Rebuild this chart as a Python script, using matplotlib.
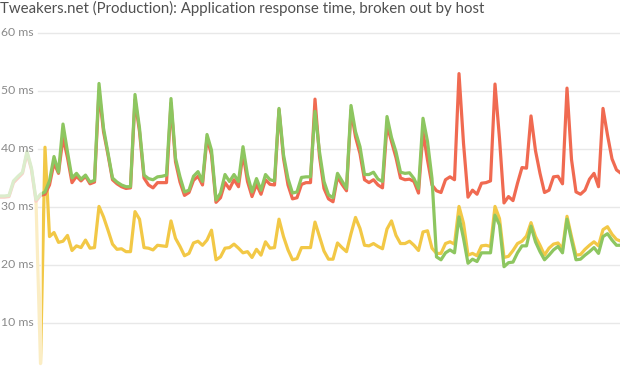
import numpy as np
import matplotlib.pyplot as plt
from matplotlib.colors import to_rgb
from matplotlib.patches import Rectangle

# Response time per host (ms), one sample every 4.5 px of the original chart
green_ms = [31.9, 31.9, 32.0, 34.5, 35.3, 36.0, 39.6, 36.7, 31.3, 32.2,
            32.6, 34.5, 38.7, 36.0, 44.3, 39.5, 35.0, 35.8, 34.8, 35.5,
            34.3, 34.6, 51.3, 43.6, 39.3, 35.0, 34.3, 33.8, 33.5, 33.5,
            49.4, 43.6, 35.5, 34.9, 34.7, 35.2, 35.3, 35.5, 48.7, 38.4,
            35.2, 32.6, 32.9, 35.3, 36.1, 34.4, 42.5, 39.8, 31.2, 32.4,
            35.6, 34.4, 35.6, 34.4, 40.4, 35.5, 32.6, 34.9, 32.9, 35.6,
            34.7, 34.5, 47.0, 39.0, 34.9, 32.4, 32.6, 35.1, 35.2, 35.2,
            46.5, 39.5, 34.4, 32.1, 31.6, 35.8, 34.5, 33.2, 47.5, 43.0,
            40.4, 35.6, 35.6, 36.0, 34.8, 34.4, 45.6, 42.0, 39.5, 36.0,
            35.8, 35.9, 34.9, 33.2, 45.3, 41.3, 34.9, 21.4, 20.9, 22.1,
            22.6, 22.1, 28.3, 24.6, 20.3, 21.0, 20.6, 22.1, 22.1, 22.1,
            28.6, 26.9, 19.7, 20.4, 20.5, 22.1, 23.3, 23.3, 26.7, 24.0,
            22.3, 20.9, 21.7, 22.6, 23.2, 22.1, 27.9, 24.3, 20.9, 21.0,
            21.7, 22.3, 23.0, 22.0, 24.9, 25.4, 24.3, 23.4, 23.4]

red_ms = [31.7, 31.7, 31.8, 34.2, 35.0, 35.8, 39.3, 36.4, 31.0, 32.0,
          32.2, 33.8, 37.6, 35.8, 42.0, 38.5, 34.2, 35.3, 34.5, 35.3,
          34.0, 34.3, 50.0, 43.0, 39.0, 34.7, 34.0, 33.5, 33.2, 33.3,
          48.5, 43.0, 35.0, 33.8, 33.3, 34.2, 34.2, 34.2, 47.9, 37.8,
          34.3, 32.0, 32.5, 34.6, 35.3, 33.8, 41.9, 39.0, 30.8, 31.6,
          34.2, 33.1, 34.7, 33.5, 39.2, 34.4, 31.8, 33.9, 32.2, 34.7,
          33.9, 33.8, 46.8, 38.4, 33.8, 31.4, 31.6, 33.9, 34.2, 34.2,
          48.6, 38.7, 33.2, 31.4, 30.9, 35.2, 33.9, 32.8, 46.7, 42.1,
          39.2, 34.7, 34.2, 34.7, 33.8, 33.3, 44.1, 41.3, 38.5, 35.0,
          34.7, 34.8, 34.4, 32.4, 43.0, 38.1, 33.8, 32.8, 32.5, 34.7,
          35.2, 34.7, 53.0, 41.0, 31.7, 32.9, 32.2, 34.1, 34.2, 34.5,
          51.2, 41.8, 30.7, 31.8, 31.1, 34.1, 36.8, 36.7, 45.7, 39.7,
          35.8, 32.5, 32.9, 35.2, 35.3, 34.0, 50.5, 38.2, 32.6, 32.2,
          32.9, 34.8, 35.8, 33.5, 47.0, 42.4, 38.3, 36.4, 35.8]

nan = float('nan')
yellow_ms = [nan, nan, nan, nan, nan, nan, nan, nan, 31.0, 3.0,
             40.3, 24.9, 25.6, 23.9, 24.1, 25.1, 22.5, 23.3, 23.0, 24.3,
             22.9, 23.0, 30.1, 28.3, 26.0, 23.6, 22.7, 22.8, 22.3, 22.3,
             29.2, 27.9, 23.0, 22.9, 22.6, 23.4, 23.3, 23.2, 27.6, 24.6,
             23.2, 21.6, 22.0, 23.8, 24.1, 23.4, 24.3, 26.0, 20.9, 21.4,
             22.9, 23.0, 23.6, 22.9, 22.1, 22.3, 21.3, 22.7, 21.7, 24.0,
             22.9, 23.0, 27.9, 24.9, 22.6, 20.9, 21.1, 23.0, 23.0, 23.0,
             27.4, 24.9, 22.4, 21.0, 21.0, 23.8, 23.0, 22.3, 25.4, 28.2,
             26.3, 23.4, 23.3, 23.7, 23.2, 22.8, 26.2, 27.6, 25.1, 23.7,
             23.7, 24.1, 23.4, 22.5, 25.7, 25.9, 22.9, 22.0, 22.0, 23.7,
             24.0, 23.6, 30.1, 27.2, 21.7, 22.0, 21.6, 23.3, 23.4, 23.2,
             30.1, 28.0, 21.3, 21.5, 22.5, 23.7, 24.1, 25.0, 27.3, 24.9,
             23.4, 21.7, 22.9, 23.6, 23.8, 22.8, 28.4, 24.9, 21.7, 21.8,
             22.7, 23.4, 24.0, 23.3, 26.1, 26.6, 25.3, 24.4, 24.1]

grid_values = [10, 20, 30, 40, 50, 60]
title = "Tweakers.net (Production): Application response time, broken out by host"

RED = "#f06a51"
GREEN = "#8dc660"
YELLOW = "#f2c846"


def pale(col, k=0.32):
    # colour mixed with white, used for the older (faded) part of each line
    r, g, b = to_rgb(col)
    return (1 - k + k * r, 1 - k + k * g, 1 - k + k * b)


W, H = 620, 366
fig = plt.figure(figsize=(W / 100, H / 100), dpi=100)
ax = fig.add_axes([0, 0, 1, 1])
ax.axis("off")

px = 4.5                      # pixels per sample
ax.set_xlim(0, W / px)
ax.set_ylim(15 / 5.8, 381 / 5.8)   # 5.8 px per ms, 0 ms sits below the picture

x = np.arange(len(green_ms))
now_x = 41.5 / px             # older samples are drawn faded

for vals, col in [(yellow_ms, YELLOW), (red_ms, RED), (green_ms, GREEN)]:
    solid, = ax.plot(x, vals, color=col, lw=2.3, solid_joinstyle="round", zorder=3)
    faded, = ax.plot(x, vals, color=pale(col), lw=2.3, solid_joinstyle="round", zorder=3)
    solid.set_clip_path(Rectangle((now_x, -100), 1000, 1000, transform=ax.transData))
    faded.set_clip_path(Rectangle((-100, -100), now_x + 100, 1000, transform=ax.transData))

fig.text(0.0, 1 - 1 / H, title, ha="left", va="top", fontsize=10.8,
         family="Lato", color="#505050")

labels = []
for v in grid_values:
    t = ax.text(1 / px, v, f"{v} ms", ha="left", va="center", fontsize=8.8,
                family="Lato", color="#8a8a8a", zorder=5)
    labels.append((v, t))

fig.canvas.draw()
r = fig.canvas.get_renderer()
for v, t in labels:
    bb = t.get_window_extent(r)
    x0 = ax.transData.inverted().transform((bb.x1 + 4, 0))[0]
    ax.plot([x0, W / px], [v, v], color="#e8e8e8", lw=1, zorder=1)

fig.savefig("out.png", dpi=100)
